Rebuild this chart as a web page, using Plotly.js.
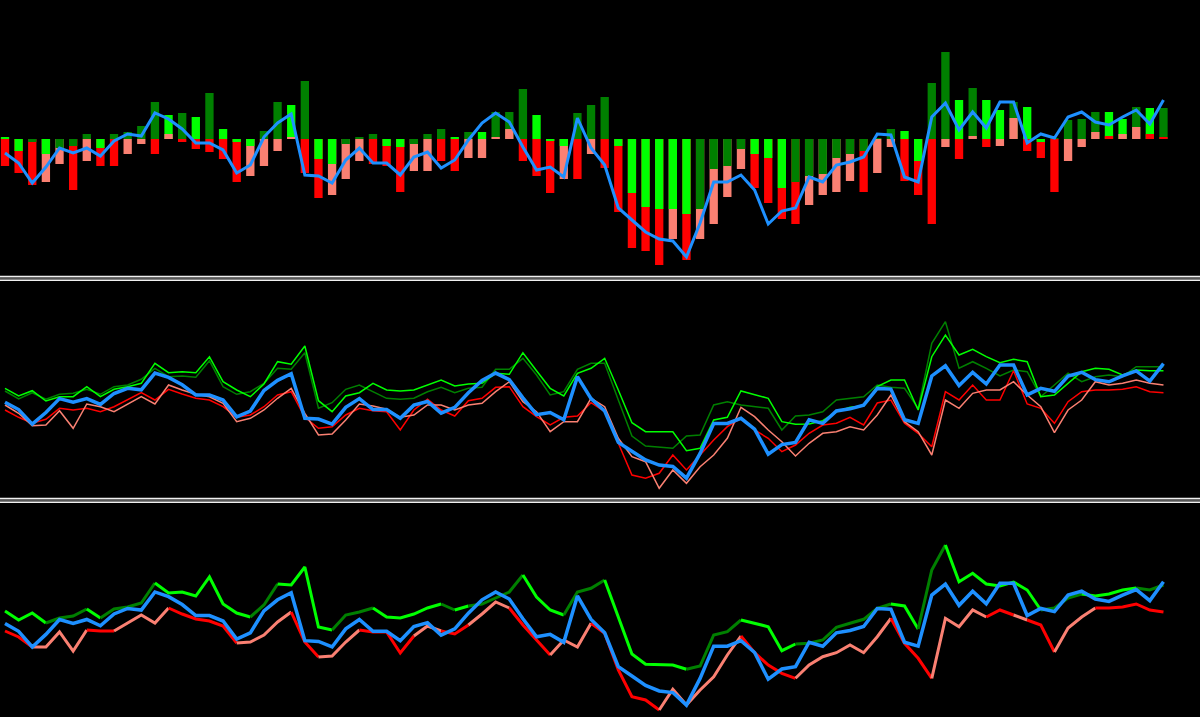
<!DOCTYPE html>
<html><head><meta charset="utf-8">
<script src="https://cdn.plot.ly/plotly-3.0.1.min.js"></script>
<style>html,body{margin:0;padding:0;background:#000;}#chart{width:1200px;height:717px;}</style>
</head><body><div id="chart"></div>
<script>
// ---------- DATA (index = bar number) ----------
// Top panel: histogram pair + signal line
const greenBar = [2,-12,-3,-15,-9,-7,5,-9,5,7, 13,37,24,26,22,46,10,-3,-7,8, 37,34,58,-20,-25,-5,2,5,-7,-8,
  -5,5,10,2,7,7,27,27,50,24, -2,-7,26,34,42,-7,-54,-68,-70,-70, -75,-70,-30,-27,-10,-15,-19,-49,-43,-37,
  -35,-19,-15,-12,1,10,8,-22,56,87, 39,51,39,29,37,32,-3,1,19,20, 27,27,20,32,31,31];
const greenIsDark = [0,0,1,0,1,1,1,0,1,1, 1,1,0,1,0,1,0,0,0,1, 1,0,1,0,0,1,1,1,0,0,
  1,1,1,0,1,0,1,1,1,0, 0,0,1,1,1,0,0,0,0,0, 0,1,1,1,1,0,0,0,1,1,
  1,1,1,1,1,1,0,0,1,1, 0,1,0,0,1,0,0,1,1,1, 1,0,0,1,0,1];
const redBar = [-27,-34,-46,-43,-25,-51,-22,-27,-27,-15, -5,-15,5,-3,-10,-13,-20,-43,-37,-27, -12,2,-34,-59,-56,-40,-22,-25,-27,-53,
  -32,-32,-22,-32,-19,-19,2,10,-22,-37, -54,-40,-40,-15,-29,-73,-109,-112,-126,-100, -121,-100,-85,-58,-30,-49,-64,-80,-85,-66,
  -56,-53,-42,-53,-34,-8,-42,-56,-85,-8, -20,3,-8,-7,21,-12,-19,-53,-22,-8, 7,3,5,12,5,2];
const redIsBright = [1,1,1,0,0,1,0,1,1,0, 0,1,0,1,1,1,1,1,0,0, 0,0,1,1,0,0,0,1,1,1,
  0,0,1,1,0,0,0,0,1,1, 1,0,1,0,1,1,1,1,1,0, 1,0,0,0,0,1,1,1,1,0,
  0,0,0,1,0,0,1,1,1,0, 1,0,1,0,0,1,1,1,0,0, 0,1,0,0,1,1];
const signal = [-14,-24,-44,-28,-9,-14,-9,-17,-2,5, 3,26,20,10,-4,-4,-11,-34,-26,2, 16,25,-36,-37,-44,-21,-9,-24,-24,-36,
  -18,-13,-29,-21,-1,16,26,17,-8,-31, -28,-38,21,-9,-26,-69,-81,-93,-100,-102, -118,-84,-43,-43,-36,-51,-85,-72,-69,-38,
  -43,-26,-23,-18,5,4,-38,-43,22,36, 9,27,11,37,37,-4,5,1,22,27, 17,14,22,29,15,39];

// Middle panel: four thin lines
const midLime = [108.7,101,106.3,96,100.3,100.3,110.3,100.3,107.7,110.3, 113.7,133.7,124.3,125.3,124.3,140.3,115.3,107,100.3,113,
  135.3,132.7,151,96.3,85.3,101,104.3,113.7,107,106, 107,112,117,111,113,113.7,123.7,122.7,144.3,126.3,
  108.7,101,123.7,128.7,138.7,107,74.3,65.3,65.3,65.3, 46.3,48.7,77,79.7,106,102.7,98.7,75.3,72.7,73,
  76.3,85.3,89.7,91,110.3,117,117,87,140.3,162, 142,147.7,140.3,134.3,137.7,135.3,100.3,102,113.7,125.3,
  128.7,127.7,122,127,126.3,126.3];
const midDark = [106,98,104.3,97.7,102.7,103.7,107.7,102.7,110.3,112, 117.7,128.7,120.3,121,119.7,136.3,110.3,102.7,105.3,113.7,
  128.7,127.7,144.3,88.7,94.3,107.7,112,105.3,98.7,97.7, 98.7,105.3,109.7,104.3,108.7,109.7,127.7,127.7,138.7,122,
  102,105.3,127.7,133.7,133.7,97,61,51,49.7,48.7, 61,62,92,95.3,92,90.3,88.7,67,81,82,
  85.3,97,98.7,100.3,112,109.7,108.7,88.7,153.7,175.3, 128.7,135.3,128.7,121,127,125.3,100.3,112,123.7,115.3,
  120.3,122,120.3,130.3,130.3,130.3];
const midRed = [87,79.7,73.7,77.7,88.7,87,88.7,85.3,90.3,97.7, 104.3,97,107.7,103,98.7,97,90.3,79.7,82,90.3,
  102,105.3,79.7,68.7,70.3,82,88.7,86.3,85.3,67, 87,97.7,87,81,96.3,98.7,109.7,110.3,90.3,80.3,
  72,79.7,81,94.3,85.3,53.7,22,18.7,23.7,42, 27,42,57,70.3,78.7,67,58.7,45.3,52,63.7,
  72,73.7,79.7,72,94,97,73.7,63.7,50.3,105.3, 97,112,97,97,126.3,93,88.7,73.7,95.3,105.3,
  107,107,107.7,110.3,105.3,104.3];
const midSalmon = [92,83.7,71.3,72,86.3,68.7,93,90.3,85.3,93, 100.3,93,112,107,102.7,100.3,93.7,75.3,78.7,87,
  98.7,108.7,83.7,62,63,77,93,91,87.7,79.7, 82,92,92,87,92,93.7,105.3,115.3,95.3,85.3,
  65.3,75.3,75.3,98.7,90.3,58.7,40.3,35.3,8.7,27, 13.7,30.3,42,58.7,89.7,80.3,67,55.3,41,53.7,
  63.7,65.3,70.3,67,82,102,75.3,65.3,42,97, 88.7,103.7,107,107,115.3,102,90.3,64.3,87,97,
  115.3,112,113.7,117,113.7,112];

// Bottom panel: two thick lines, colour per segment
const botUpper = [106,97,104,94,99,101,108,99,108,110, 114,134,124,125,121,140,113,104,100,112,
  133,132,150,90,87,102,105,109,100,99, 103,109,113,107,111,113,119,125,142,120,
  107,102,125,128.7,137,100,63,52.7,52,52, 47.7,51,82,85.3,97,93.7,90.3,66.3,73,73.7,
  77,89.7,93.7,97.7,108.7,113,111,88,147,172, 135.3,143.7,133,131,135,127,107,109,119,123,
  121,123,127,129,127,132];
const botUpperDarkSeg = [0,0,0,1,1,1,0,1,1,1, 1,0,0,0,0,0,0,0,1,1, 0,0,0,0,1,1,1,0,0,0,
  0,0,1,0,1,1,1,1,0,0, 0,1,1,1,0,0,0,0,0,0, 1,1,1,1,0,0,0,0,1,1,
  1,1,1,1,1,0,0,1,1,0, 0,0,0,0,0,0,1,1,1,0, 0,0,0,1,1];
const botLower = [86,80,70,70,85,66,87,86,86,94, 102,94,109,103,98,96,91,74,75,82,
  95,105,75,60,61,75,87,85,85,64, 81,91,86,83,92,103,115,109,92,77,
  62,77,70,93.7,83.7,47,20.3,17,7,27.7, 12,27,40.3,62,81,64.3,52,43.7,38.7,52,
  60.3,64.3,72,64.3,80.3,98.7,73.7,58.7,38.7,98.7, 90.3,107,100,107,102,97,92,65,89,100,
  109,109,110,113,107,105];
const botLowerRedSeg = [1,1,0,0,0,0,1,1,0,0, 0,0,1,1,1,1,1,0,0,0, 0,1,1,0,0,0,1,1,1,1,
  0,0,1,1,0,0,0,1,1,1, 0,0,0,1,1,1,1,1,0,0, 0,0,0,0,1,1,1,1,0,0,
  0,0,0,0,0,1,1,1,0,0, 0,0,1,1,0,1,1,0,0,0, 1,1,1,1,1];

// ---------- STYLE ----------
const LIME = '#00ff00', DKGREEN = '#008000', RED = '#ff0000', SALMON = '#fa8072', BLUE = '#1e90ff';
const idx = signal.map((_, i) => i);

// Bars: larger magnitude drawn behind, smaller in front
const backY = [], backC = [], frontY = [], frontC = [];
idx.forEach(i => {
  const g = {v: greenBar[i], c: greenIsDark[i] ? DKGREEN : LIME};
  const r = {v: redBar[i], c: redIsBright[i] ? RED : SALMON};
  const [b, f] = Math.abs(g.v) >= Math.abs(r.v) ? [g, r] : [r, g];
  backY.push(b.v); backC.push(b.c); frontY.push(f.v); frontC.push(f.c);
});

const traces = [];
const barW = 0.61;
traces.push({type:'bar', x: idx, y: backY, width: barW, marker:{color: backC, line:{width:0}}, opacity:1, xaxis:'x', yaxis:'y', hoverinfo:'skip'});
traces.push({type:'bar', x: idx, y: frontY, width: barW, marker:{color: frontC, line:{width:0}}, opacity:1, xaxis:'x', yaxis:'y', hoverinfo:'skip'});
traces.push({type:'scatter', mode:'lines', x: idx, y: signal, line:{color: BLUE, width: 3}, xaxis:'x', yaxis:'y', hoverinfo:'skip'});

// Middle panel
[[midDark, DKGREEN], [midLime, LIME], [midRed, RED], [midSalmon, SALMON]].forEach(([arr, col]) => {
  traces.push({type:'scatter', mode:'lines', x: idx, y: arr, line:{color: col, width: 1.5}, xaxis:'x', yaxis:'y2', hoverinfo:'skip'});
});
traces.push({type:'scatter', mode:'lines', x: idx, y: signal, line:{color: BLUE, width: 3.5}, xaxis:'x', yaxis:'y4', hoverinfo:'skip'});

// Bottom panel: segment-coloured lines
function segRuns(vals, codes, colOn, colOff, yaxis, width) {
  const out = []; let start = 0;
  for (let s = 1; s <= codes.length; s++) {
    if (s === codes.length || codes[s] !== codes[start]) {
      const xs = [], ys = [];
      for (let j = start; j <= s; j++) { xs.push(idx[j]); ys.push(vals[j]); }
      out.push({type:'scatter', mode:'lines', x: xs, y: ys, line:{color: codes[start] ? colOn : colOff, width}, xaxis:'x', yaxis, hoverinfo:'skip'});
      start = s;
    }
  }
  return out;
}
traces.push(...segRuns(botUpper, botUpperDarkSeg, DKGREEN, LIME, 'y3', 3));
traces.push(...segRuns(botLower, botLowerRedSeg, RED, SALMON, 'y3', 3));
traces.push({type:'scatter', mode:'lines', x: idx, y: signal, line:{color: BLUE, width: 3.5}, xaxis:'x', yaxis:'y5', hoverinfo:'skip'});

// ---------- LAYOUT ----------
const H = 717;
const dom = (t, b) => [1 - b / H, 1 - t / H];
const hid = {visible:false, showgrid:false, zeroline:false, fixedrange:true};
const sepLine = (py, col, w) => ({type:'line', xref:'paper', yref:'paper', x0:0, x1:1, y0:1 - py / H, y1:1 - py / H, line:{color: col, width: w}});

const layout = {
  width: 1200, height: 717,
  margin: {l:0, r:0, t:0, b:0, pad:0},
  paper_bgcolor: '#000', plot_bgcolor: '#000',
  showlegend: false, barmode: 'overlay',
  xaxis: Object.assign({}, hid, {range: [-0.367, 87.68], anchor:'y'}),
  yaxis: Object.assign({}, hid, {domain: dom(0, 275), range: [-136, 139]}),
  yaxis2: Object.assign({}, hid, {domain: dom(281, 497), range: [0, 216]}),
  yaxis3: Object.assign({}, hid, {domain: dom(503, 717), range: [0, 214]}),
  yaxis4: Object.assign({}, hid, {overlaying:'y2', range: [-143.8, 152.1]}),
  yaxis5: Object.assign({}, hid, {overlaying:'y3', range: [-133.1, 139.2]}),
  shapes: [
    sepLine(278.2, '#555', 2), sepLine(276.5, '#f0f0f0', 1.6), sepLine(280.2, '#f0f0f0', 1.6),
    sepLine(500.2, '#555', 2), sepLine(498.5, '#f0f0f0', 1.6), sepLine(502.2, '#f0f0f0', 1.6)
  ]
};

Plotly.newPlot('chart', traces, layout, {staticPlot: true, displayModeBar: false});
</script>
</body></html>
